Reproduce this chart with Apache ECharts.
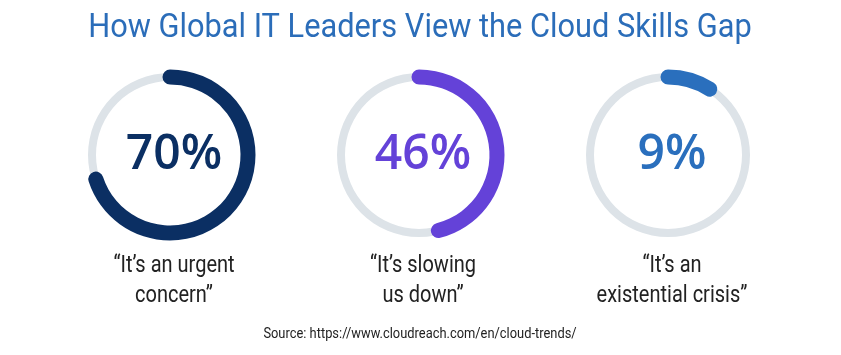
<!DOCTYPE html>
<html><head><meta charset="utf-8">
<script src="https://cdn.jsdelivr.net/npm/echarts@6/dist/echarts.min.js"></script>
<style>html,body{margin:0;padding:0;background:#fff}#c{width:841px;height:355px}</style>
</head><body><div id="c"></div>
<script>
const titleText = 'How Global IT Leaders View the Cloud Skills Gap';
const categories = ['\u201CIt\u2019s an urgent\nconcern\u201D', '\u201CIt\u2019s slowing\nus down\u201D', '\u201CIt\u2019s an\nexistential crisis\u201D'];
const values = [70, 46, 9];
const sourceText = 'Source: https://www.cloudreach.com/en/cloud-trends/';

const arcColors = ['#0b2f63', '#6442d8', '#2a6fbd'];
const centersX = [170, 419, 668];
const centerY = 155;
const rMid = 78;

const chart = echarts.init(document.getElementById('c'), null, {renderer: 'canvas'});
const series = [];
values.forEach((v, i) => {
  series.push({
    type: 'gauge', center: [centersX[i], centerY], radius: rMid + 4,
    startAngle: 90, endAngle: -270, min: 0, max: 100, silent: true,
    axisLine: {show: true, roundCap: false, lineStyle: {width: 8, color: [[1, '#dde3e8']]}},
    progress: {show: false}, pointer: {show: false}, axisTick: {show: false},
    splitLine: {show: false}, axisLabel: {show: false}, title: {show: false},
    detail: {show: false}, data: [{value: 0}]
  });
  series.push({
    type: 'gauge', center: [centersX[i], centerY], radius: rMid + 7.5,
    startAngle: 90, endAngle: -270, min: 0, max: 100, silent: true,
    axisLine: {show: false, lineStyle: {width: 15}},
    progress: {show: true, width: 15, roundCap: true, itemStyle: {color: arcColors[i]}},
    pointer: {show: false}, axisTick: {show: false}, splitLine: {show: false},
    axisLabel: {show: false}, title: {show: false},
    detail: {
      show: true, offsetCenter: [4, 0], valueAnimation: false,
      formatter: '{value}%', color: arcColors[i],
      fontFamily: 'Open Sans', fontWeight: 600, fontSize: 48
    },
    data: [{value: v}]
  });
});

const graphics = [
  {type: 'text', x: 420, y: 28, scaleX: 0.905, style: {text: titleText, fill: '#2b6db9', font: '400 34px Roboto', textAlign: 'center', textVerticalAlign: 'middle'}},
  {type: 'text', x: 420, y: 334, scaleX: 0.92, style: {text: sourceText, fill: '#222', font: '400 14px Roboto', textAlign: 'center', textVerticalAlign: 'middle'}}
];
categories.forEach((c, i) => {
  graphics.push({type: 'text', x: centersX[i] + 4, y: 281, scaleX: 0.87,
    style: {text: c, fill: '#222', font: '400 23px Roboto', lineHeight: 30, textAlign: 'center', textVerticalAlign: 'middle'}});
});

chart.setOption({animation: false, series: series, graphic: graphics});
</script></body></html>
